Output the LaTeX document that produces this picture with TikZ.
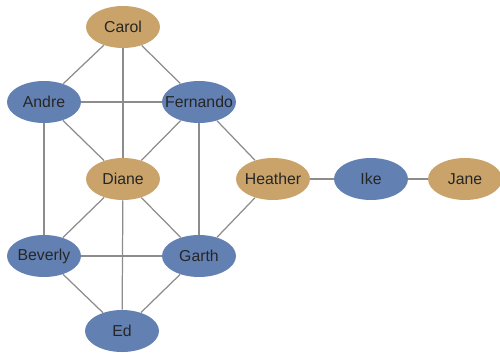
\documentclass[tikz,border=0pt]{standalone}
\usepackage{fontspec}
\setmainfont{Liberation Sans}
\usetikzlibrary{shapes.geometric}
\definecolor{kitetan}{RGB}{201,163,106}
\definecolor{kiteblue}{RGB}{99,128,178}
\definecolor{kiteedge}{RGB}{140,140,140}
\begin{document}
\begin{tikzpicture}[
   every node/.style={ellipse, minimum width=1.48cm, minimum height=0.84cm, inner xsep=-0.16cm, inner ysep=0pt, font=\fontsize{9}{10}\selectfont, text=black!85},
   tan/.style={fill=kitetan},
   blue/.style={fill=kiteblue},
   link/.style={draw=kiteedge, line width=0.7pt}]

\useasboundingbox (0,0) rectangle (10,7.04);

\node[tan]  (carol)    at (2.46,6.50) {Carol};
\node[blue] (andre)    at (0.88,5.00) {Andre};
\node[blue] (fernando) at (3.98,5.00) {Fernando};
\node[tan]  (diane)    at (2.46,3.46) {Diane};
\node[tan]  (heather)  at (5.46,3.46) {Heather};
\node[blue] (ike)      at (7.42,3.46) {Ike};
\node[tan]  (jane)     at (9.30,3.46) {Jane};
\node[blue] (beverly)  at (0.88,1.92) {Beverly};
\node[blue] (garth)    at (3.98,1.92) {Garth};
\node[blue] (ed)       at (2.44,0.42) {Ed};

\draw[link] (carol) -- (andre);
\draw[link] (carol) -- (fernando);
\draw[link] (carol) -- (diane);
\draw[link] (andre) -- (fernando);
\draw[link] (andre) -- (diane);
\draw[link] (andre) -- (beverly);
\draw[link] (fernando) -- (diane);
\draw[link] (fernando) -- (heather);
\draw[link] (fernando) -- (garth);
\draw[link] (diane) -- (beverly);
\draw[link] (diane) -- (garth);
\draw[link] (diane) -- (ed);
\draw[link] (beverly) -- (garth);
\draw[link] (beverly) -- (ed);
\draw[link] (garth) -- (ed);
\draw[link] (garth) -- (heather);
\draw[link] (heather) -- (ike);
\draw[link] (ike) -- (jane);

\end{tikzpicture}
\end{document}
